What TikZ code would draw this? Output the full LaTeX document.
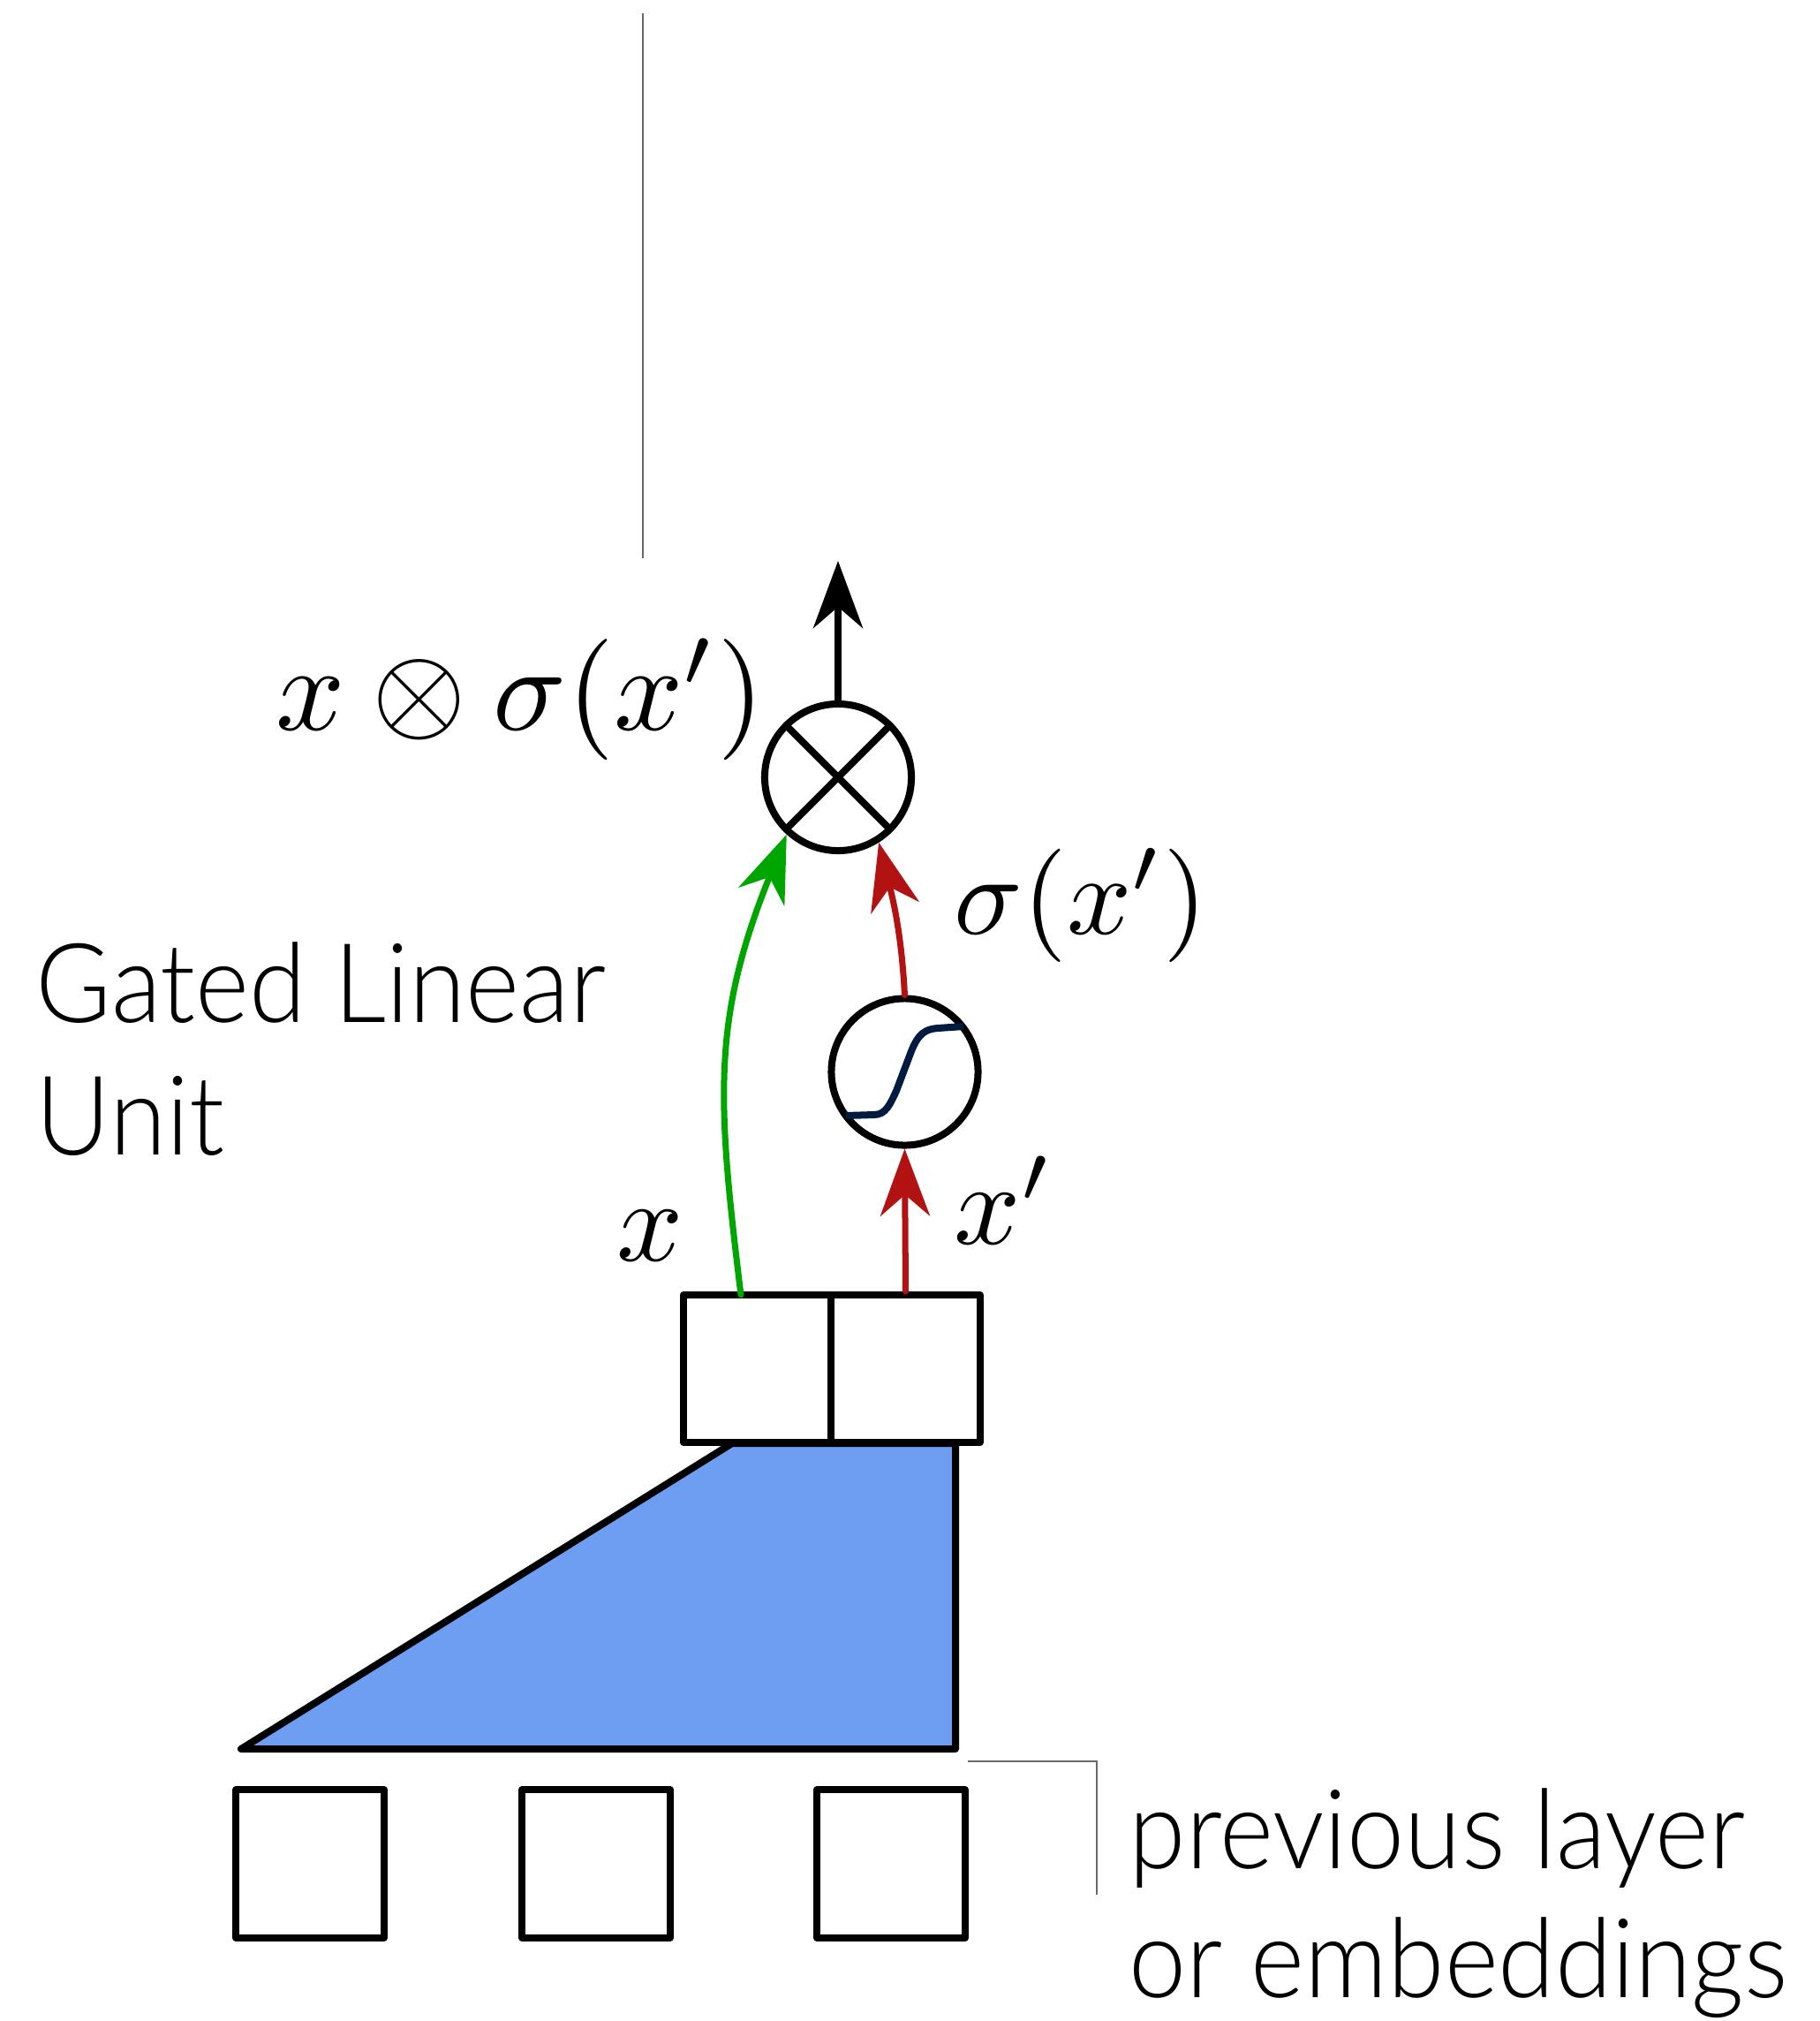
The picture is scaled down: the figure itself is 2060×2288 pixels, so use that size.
\RequirePackage{fix-cm}
\documentclass[tikz,border=0pt]{standalone}
\usepackage[no-math]{fontspec}
\usepackage{graphicx}
\newfontfamily\glufont{Lato Light}[FakeStretch=0.935]
\usetikzlibrary{arrows.meta}
\definecolor{gluGreen}{RGB}{0,165,0}
\definecolor{gluRed}{RGB}{178,18,18}
\definecolor{gluNavy}{RGB}{0,27,64}
\definecolor{gluBlue}{RGB}{109,158,241}
\definecolor{gluGray}{RGB}{105,105,105}
\newcommand{\bigmath}[2]{\scalebox{#1}{\fontsize{10}{12}\selectfont$#2$}}
\begin{document}
\begin{tikzpicture}[x=0.01cm,y=0.01cm,
  cell/.style={draw, line width=0.08cm, fill=white, minimum width=1.68cm, minimum height=1.67cm, inner sep=0pt, line join=round},
  op/.style={circle, draw, line width=0.08cm, minimum size=1.66cm, inner sep=0pt, fill=white},
  arr/.style={line width=0.07cm, line cap=round, -{Stealth[length=0.76cm,width=0.56cm,inset=0.24cm]}},
  mathlbl/.style={inner sep=0pt, anchor=base west},
  txt/.style={inner sep=0pt, anchor=base west, font=\glufont\fontsize{35.5}{42}\selectfont},
  guide/.style={draw=gluGray, line width=0.5pt}]
\useasboundingbox (0,0) rectangle (2060,-2288);

% thin guide line at top
\coordinate (gtop) at (728,-15);
\coordinate (gbot) at (728,-632);
\draw[guide] (gtop) -- (gbot);

% convolution trapezoid
\draw[fill=gluBlue, line width=0.08cm, line join=round]
  (829,-1634) -- (1082,-1634) -- (1082,-1980) -- (273,-1980) -- cycle;

% output cells
\node[cell] (xbox) at (858,-1549.5) {};
\node[cell] (xpbox) at (1025.5,-1549.5) {};

% input cells
\node[cell] (in1) at (351,-2110) {};
\node[cell] (in2) at (675,-2110) {};
\node[cell] (in3) at (1009,-2110) {};

% sigmoid unit
\node[op] (sig) at (1024.5,-1213.5) {};
\draw[gluNavy, line width=0.08cm]
  (958,-1263) -- (990,-1262) .. controls (1003,-1262) and (1008,-1250) .. (1015,-1235)
  -- (1032,-1190) .. controls (1040,-1170) and (1048,-1165) .. (1062,-1164) -- (1091,-1162);

% multiplication unit
\node[op] (mul) at (949,-880) {};
\draw[line width=0.08cm] (mul.center) +(45:83) -- +(225:83)
                         (mul.center) +(135:83) -- +(315:83);

% connectors
\coordinate (out) at (949,-635);
\draw[arr, black, line width=0.075cm] (mul.north) -- (out);
\draw[arr, gluRed] (xpbox.north) -- (sig.south);
\draw[arr, gluRed] (sig.north) to[out=93, in=-76] (mul.302);
\coordinate (xsrc) at (839,-1466);
\draw[arr, gluGreen] (xsrc) to[out=97, in=248, looseness=1.1] (mul.228);

% bracket guide
\coordinate (b1) at (1096,-1994);
\coordinate (b2) at (1242,-1994);
\coordinate (b3) at (1242,-2145);
\draw[guide] (b1) -- (b2) -- (b3);

% math labels
\node[mathlbl] (formula) at (312,-826) {\bigmath{3.9}{x\otimes\sigma(x')}};
\node[mathlbl] (sigl) at (1080,-1057) {\bigmath{3.65}{\sigma(x')}};
\node[mathlbl] (xl) at (698,-1427) {\bigmath{3.75}{x}};
\node[mathlbl] (xpl) at (1080,-1408) {\bigmath{3.75}{x'}};

% text labels
\node[txt] (glu1) at (40,-1157) {Gated Linear};
\node[txt] (glu2) at (40,-1307) {Unit};
\node[txt] (prev1) at (1278,-2115) {previous layer};
\node[txt] (prev2) at (1278,-2261) {or embeddings};
\end{tikzpicture}
\end{document}
